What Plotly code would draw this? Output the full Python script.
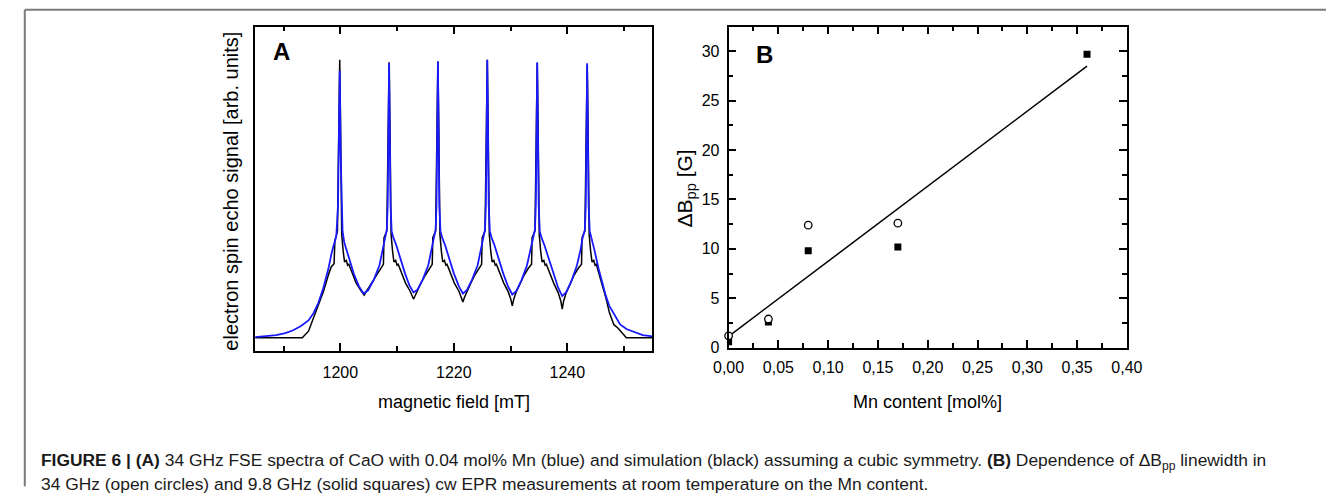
import plotly.graph_objects as go

# ---------------- Panel A data: magnetic field [mT] vs echo signal (arb. units, 0-100) ----------------
field_sim = [1185.0, 1193.3, 1194.4, 1195.3, 1196.1, 1197.0, 1197.9, 1198.4, 1198.9, 1199.05, 1199.5, 1199.75, 1199.9,
             1200.05, 1200.25, 1200.5, 1200.75, 1201.05, 1201.3, 1201.5, 1202.1, 1202.8, 1203.6, 1204.2,
             1204.7, 1205.5, 1206.3, 1207.0, 1207.6, 1207.7, 1208.2, 1208.45, 1208.6, 1208.75, 1208.95, 1209.2,
             1209.45, 1209.75, 1210.0, 1210.2, 1210.8, 1211.5, 1212.3, 1212.7, 1212.9,
             1213.1, 1213.5, 1214.2, 1215.0, 1215.7, 1216.2, 1216.3, 1216.8, 1217.05, 1217.2, 1217.35, 1217.55,
             1217.8, 1218.05, 1218.35, 1218.6, 1218.8, 1219.4, 1220.1, 1220.9, 1221.35, 1221.6,
             1221.85, 1222.3, 1223.0, 1223.7, 1224.4, 1224.9, 1225.0, 1225.5, 1225.75, 1225.9, 1226.05, 1226.25,
             1226.5, 1226.75, 1227.05, 1227.3, 1227.5, 1228.1, 1228.8, 1229.6, 1230.05, 1230.3,
             1230.55, 1231.0, 1231.7, 1232.4, 1233.1, 1233.7, 1233.8, 1234.3, 1234.55, 1234.7, 1234.85, 1235.05,
             1235.3, 1235.55, 1235.85, 1236.1, 1236.3, 1236.9, 1237.6, 1238.4, 1238.85, 1239.1,
             1239.35, 1239.8, 1240.5, 1241.2, 1241.9, 1242.5, 1242.6, 1243.1, 1243.35, 1243.5, 1243.65, 1243.85,
             1244.1, 1244.35, 1244.65, 1244.9, 1245.1, 1245.7, 1246.3, 1246.8, 1247.4, 1248.2, 1248.9, 1249.6,
             1250.4, 1255.0]
signal_sim = [4.2, 4.2, 6.2, 10.5, 14.2, 18.3, 23.5, 26.0, 27.0, 34.0, 37.0, 70.0, 89.8,
              70.0, 36.0, 31.0, 27.5, 28.0, 26.5, 26.8, 24.0, 21.0, 18.8, 17.3,
              18.8, 21.0, 23.5, 25.5, 26.8, 35.0, 37.0, 70.0, 89.0, 70.0, 36.0, 31.0,
              27.5, 28.0, 26.5, 26.8, 24.0, 21.0, 18.5, 16.8, 16.1,
              16.8, 18.5, 21.0, 23.5, 25.5, 26.8, 35.0, 37.0, 70.0, 89.2, 70.0, 36.0,
              31.0, 27.5, 28.0, 26.5, 26.8, 24.0, 21.0, 18.5, 16.5, 15.2,
              16.5, 18.5, 21.0, 23.5, 25.5, 26.8, 35.0, 37.0, 70.0, 89.8, 70.0, 36.0,
              31.0, 27.5, 28.0, 26.5, 26.8, 24.0, 21.0, 18.3, 16.0, 14.0,
              16.0, 18.3, 21.0, 23.5, 25.5, 26.8, 35.0, 37.0, 70.0, 88.8, 70.0, 36.0,
              31.0, 27.5, 28.0, 26.5, 26.8, 24.0, 21.0, 18.0, 15.5, 13.0,
              15.5, 18.0, 21.0, 23.5, 25.5, 26.8, 35.0, 37.0, 70.0, 88.2, 70.0, 36.0,
              31.0, 27.5, 28.0, 26.5, 26.8, 23.5, 19.5, 16.5, 12.0, 8.2, 7.2, 5.8,
              4.2, 4.2]

field_exp = [1185.0, 1187.0, 1188.7, 1190.3, 1191.6, 1193.0, 1194.4, 1195.3, 1196.1, 1197.0, 1197.9, 1198.5,
             1198.9, 1199.3, 1199.6, 1199.75, 1199.9, 1200.05, 1200.2, 1200.4, 1200.7, 1201.2, 1201.6, 1202.4,
             1203.3, 1204.1,
             1204.9, 1205.9, 1206.9, 1207.5, 1207.9, 1208.2, 1208.35, 1208.45, 1208.6, 1208.75, 1208.85, 1209.05,
             1209.35, 1209.9, 1210.6, 1211.4, 1212.2, 1212.9,
             1213.6, 1214.5, 1215.5, 1216.1, 1216.5, 1216.8, 1216.95, 1217.05, 1217.2, 1217.35, 1217.45, 1217.65,
             1217.95, 1218.5, 1219.2, 1220.0, 1220.9, 1221.6,
             1222.3, 1223.2, 1224.2, 1224.8, 1225.2, 1225.5, 1225.65, 1225.75, 1225.9, 1226.05, 1226.15, 1226.35,
             1226.65, 1227.2, 1227.9, 1228.7, 1229.6, 1230.3,
             1231.0, 1231.9, 1232.9, 1233.5, 1233.9, 1234.3, 1234.45, 1234.55, 1234.7, 1234.85, 1234.95, 1235.15,
             1235.45, 1236.0, 1236.7, 1237.5, 1238.4, 1239.1,
             1239.8, 1240.7, 1241.7, 1242.3, 1242.7, 1243.1, 1243.25, 1243.35, 1243.5, 1243.65, 1243.75, 1243.95,
             1244.25, 1244.8, 1245.5, 1246.2, 1246.8, 1247.4, 1248.2, 1249.3, 1250.5, 1251.6, 1253.3, 1255.0]
signal_exp = [4.4, 4.6, 5.0, 5.6, 6.4, 7.7, 9.5, 11.8, 14.8, 19.4, 25.4, 30.5,
              33.5, 35.5, 45.0, 62.0, 86.5, 62.0, 45.0, 37.0, 33.5, 30.5, 28.4, 23.8,
              20.0, 17.8,
              18.8, 22.0, 26.5, 31.0, 35.0, 37.5, 45.0, 62.0, 88.8, 62.0, 45.0, 37.0,
              35.0, 32.5, 28.5, 24.0, 20.2, 18.1,
              19.0, 22.0, 26.5, 31.0, 35.0, 37.5, 45.0, 62.0, 89.3, 62.0, 45.0, 37.0,
              35.0, 32.5, 28.5, 24.0, 20.0, 17.8,
              18.8, 22.0, 26.5, 31.0, 35.0, 37.5, 45.0, 62.0, 89.8, 62.0, 45.0, 37.0,
              35.0, 32.5, 28.5, 24.0, 19.8, 17.5,
              18.5, 21.8, 26.5, 31.0, 35.0, 37.5, 45.0, 62.0, 89.0, 62.0, 45.0, 37.0,
              35.0, 32.5, 28.5, 24.0, 19.5, 17.0,
              18.2, 21.5, 26.5, 31.0, 35.0, 37.5, 45.0, 62.0, 88.7, 62.0, 45.0, 37.0,
              35.0, 31.0, 25.5, 20.5, 17.0, 14.0, 11.5, 8.3, 6.8, 6.0, 5.0, 4.6]

# ---------------- Panel B data ----------------
mn_circles = [0.0, 0.04, 0.08, 0.17]
dbpp_circles = [1.2, 2.9, 12.4, 12.6]        # 34 GHz (open circles)
mn_squares = [0.0, 0.04, 0.08, 0.17, 0.36]
dbpp_squares = [0.6, 2.6, 9.8, 10.2, 29.7]   # 9.8 GHz (solid squares)
fit_x = [0.0, 0.36]
fit_y = [1.15, 28.5]

W, H = 1342, 503
FONT = "Liberation Sans, Arial, sans-serif"


def px(x):
    return x / W


def py(y):
    return 1 - y / H


fig = go.Figure()

fig.add_trace(go.Scatter(x=field_sim, y=signal_sim, mode="lines", line=dict(color="black", width=1.5),
                         xaxis="x", yaxis="y", showlegend=False))
fig.add_trace(go.Scatter(x=field_exp, y=signal_exp, mode="lines", line=dict(color="#1a1aff", width=1.8),
                         xaxis="x", yaxis="y", showlegend=False))

fig.add_trace(go.Scatter(x=fit_x, y=fit_y, mode="lines", line=dict(color="black", width=1.5),
                         xaxis="x2", yaxis="y2", showlegend=False))
fig.add_trace(go.Scatter(x=mn_squares, y=dbpp_squares, mode="markers",
                         marker=dict(symbol="square", size=7, color="black"),
                         xaxis="x2", yaxis="y2", showlegend=False))
fig.add_trace(go.Scatter(x=mn_circles, y=dbpp_circles, mode="markers",
                         marker=dict(symbol="circle", size=7.5, color="white", line=dict(color="black", width=1.3)),
                         xaxis="x2", yaxis="y2", showlegend=False, cliponaxis=False))

axis_common = dict(showline=True, linecolor="black", linewidth=1.8, mirror="ticks", ticks="inside",
                   tickcolor="black", tickwidth=1.5, ticklen=8, showgrid=False, zeroline=False,
                   tickfont=dict(family=FONT, size=16, color="black"))

fig.update_layout(
    width=W, height=H, margin=dict(l=0, r=0, t=0, b=0),
    paper_bgcolor="white", plot_bgcolor="white",
    separators=",.",
    xaxis=dict(domain=[px(245), px(652)], anchor="y", range=[1185, 1255], tick0=1200, dtick=20,
               minor=dict(dtick=10, tick0=1190, ticks="inside", ticklen=5, tickwidth=1.5, tickcolor="black"),
               ticklabelstandoff=6, **axis_common),
    yaxis=dict(domain=[py(357), py(27)], anchor="x", range=[0, 100], showline=True, linecolor="black",
               linewidth=1.8, mirror=True, ticks="", showticklabels=False, showgrid=False, zeroline=False),
    xaxis2=dict(domain=[px(730), px(1138)], anchor="y2", range=[0, 0.40], tick0=0, dtick=0.05,
                tickformat=".2f",
                minor=dict(dtick=0.025, ticks="inside", ticklen=5, tickwidth=1.5, tickcolor="black"),
                ticklabelstandoff=4, **axis_common),
    yaxis2=dict(domain=[py(354), py(27)], anchor="x2", range=[-0.07, 32.5], tick0=0, dtick=5,
                minor=dict(dtick=2.5, ticks="inside", ticklen=5, tickwidth=1.5, tickcolor="black"),
                ticklabelstandoff=4, **axis_common),
)

annos = [
    dict(x=px(272), y=py(52), text="<b>A</b>", font=dict(family=FONT, size=24, color="black")),
    dict(x=px(767), y=py(55), text="<b>B</b>", font=dict(family=FONT, size=24, color="black")),
    dict(x=px(448.5), y=py(408), text="magnetic field [mT]", font=dict(family=FONT, size=18, color="black")),
    dict(x=px(934), y=py(409), text="Mn content [mol%]", font=dict(family=FONT, size=18, color="black")),
    dict(x=px(220), y=py(194), text="electron spin echo signal [arb. units]", textangle=-90,
         font=dict(family=FONT, size=20, color="black")),
    dict(x=px(686), y=py(192), text="ΔB<sub>pp</sub> [G]", textangle=-90,
         font=dict(family=FONT, size=21, color="black")),
]
for a in annos:
    fig.add_annotation(xref="paper", yref="paper", xanchor="center", yanchor="middle", showarrow=False, **a)

cap1 = ("<b>FIGURE 6 | (A)</b> 34 GHz FSE spectra of CaO with 0.04 mol% Mn (blue) and simulation (black) "
        "assuming a cubic symmetry. <b>(B)</b> Dependence of ΔB<sub>pp</sub> linewidth in")
cap2 = "34 GHz (open circles) and 9.8 GHz (solid squares) cw EPR measurements at room temperature on the Mn content."
for txt, yy in [(cap1, 469), (cap2, 492)]:
    fig.add_annotation(xref="paper", yref="paper", x=px(24), y=py(yy), xanchor="left", yanchor="middle",
                       showarrow=False, text=txt, font=dict(family=FONT, size=17.4, color="#1a1a1a"))

# figure frame (top and left rules)
fig.add_shape(type="line", xref="paper", yref="paper", x0=px(9), x1=1, y0=py(10), y1=py(10),
              line=dict(color="#7a7a7a", width=2))
fig.add_shape(type="line", xref="paper", yref="paper", x0=px(9), x1=px(9), y0=py(10), y1=py(494),
              line=dict(color="#7a7a7a", width=2))

fig.write_html("out.html")
